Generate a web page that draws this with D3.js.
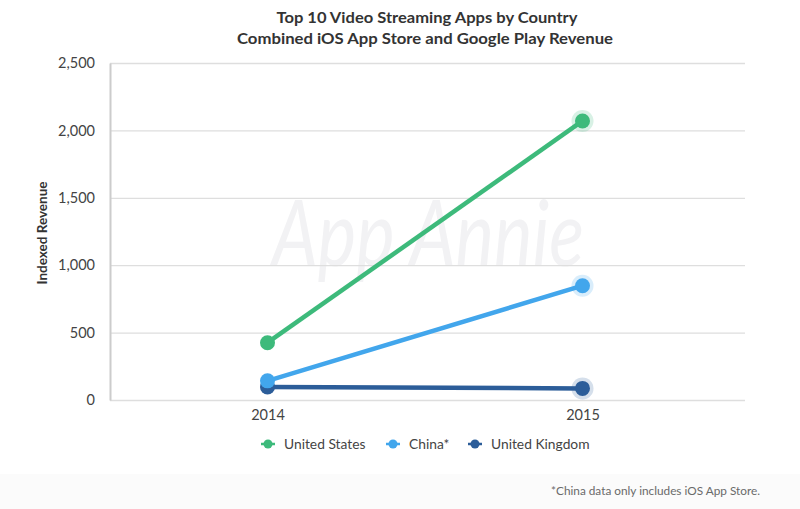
<!DOCTYPE html>
<html>
<head>
<meta charset="utf-8">
<script src="https://cdn.jsdelivr.net/npm/d3@7"></script>
<style>
  body { margin: 0; background: #fff; }
  text { font-family: Lato, "Open Sans", sans-serif; }
</style>
</head>
<body>
<div id="chart"></div>
<script>
// chart data
var years = ["2014", "2015"];
var countries = ["United States", "China*", "United Kingdom"];
var usValues = [425, 2070];
var chinaValues = [142, 848];
var ukValues = [97, 86];
var yTicks = [0, 500, 1000, 1500, 2000, 2500];
var colors = ["#3dba7b", "#42a6ec", "#2c5d99"];

var series = [usValues, chinaValues, ukValues];

var width = 800, height = 509;
var margin = {top: 63, right: 60, bottom: 109, left: 110};

var svg = d3.select("#chart").append("svg")
    .attr("width", width)
    .attr("height", height);

// faint footer band
svg.append("rect")
    .attr("x", 0).attr("y", 474)
    .attr("width", width).attr("height", 35)
    .attr("fill", "#fbfbfb");

var x = d3.scalePoint()
    .domain(years)
    .range([margin.left, width - margin.right])
    .padding(0.5);

var y = d3.scaleLinear()
    .domain([0, 2500])
    .range([height - margin.bottom, margin.top]);

// watermark
svg.append("text")
    .attr("x", 428)
    .attr("y", 266)
    .attr("text-anchor", "middle")
    .attr("font-size", 92)
    .attr("font-style", "italic")
    .attr("font-weight", 400)
    .attr("textLength", 312)
    .attr("lengthAdjust", "spacingAndGlyphs")
    .attr("fill", "#f2f2f4")
    .text("App Annie");

// gridlines
var grid = svg.append("g")
    .attr("transform", "translate(" + margin.left + ",0)")
    .call(d3.axisLeft(y).tickValues(yTicks).tickSize(-(width - margin.right - margin.left + 5)).tickFormat(""));
grid.select(".domain").remove();
grid.selectAll("line").attr("stroke", "#dedede").attr("stroke-width", 1.3);

// y axis
var yAxis = svg.append("g")
    .attr("transform", "translate(" + margin.left + ",0)")
    .call(d3.axisLeft(y).tickValues(yTicks).tickSize(0).tickPadding(15).tickFormat(d3.format(",")));
yAxis.select(".domain").attr("stroke", "#cccccc").attr("stroke-width", 2);
yAxis.selectAll("text")
    .attr("font-size", 14.5)
    .attr("fill", "#444")
    .style("font-family", "Lato, sans-serif");

// x axis labels
var xAxis = svg.append("g")
    .attr("transform", "translate(0," + (height - margin.bottom) + ")")
    .call(d3.axisBottom(x).tickSize(0).tickPadding(10));
xAxis.select(".domain").remove();
xAxis.selectAll("text")
    .attr("font-size", 14.5)
    .attr("fill", "#444")
    .style("font-family", "Lato, sans-serif");

// y title
svg.append("text")
    .attr("transform", "translate(47,233) rotate(-90)")
    .attr("text-anchor", "middle")
    .attr("font-size", 13.5)
    .attr("font-weight", "bold")
    .attr("fill", "#333")
    .text("Indexed Revenue");

// title
var title = svg.append("text")
    .attr("text-anchor", "middle")
    .attr("font-size", 15.5)
    .attr("font-weight", "bold")
    .attr("fill", "#333");
title.append("tspan").attr("x", 427).attr("y", 23)
    .attr("textLength", 301).attr("lengthAdjust", "spacingAndGlyphs")
    .text("Top 10 Video Streaming Apps by Country");
title.append("tspan").attr("x", 425).attr("y", 44)
    .attr("textLength", 376).attr("lengthAdjust", "spacingAndGlyphs")
    .text("Combined iOS App Store and Google Play Revenue");

// lines (draw UK first so it sits underneath)
var line = d3.line()
    .x(function(d, i) { return x(years[i]); })
    .y(function(d) { return y(d); });

var order = [2, 0, 1];
order.forEach(function(k) {
  var vals = series[k];
  var g = svg.append("g");
  g.append("path")
      .datum(vals)
      .attr("d", line)
      .attr("fill", "none")
      .attr("stroke", colors[k])
      .attr("stroke-width", 4.5);
  // halo on last point
  g.append("circle")
      .attr("cx", x(years[1]))
      .attr("cy", y(vals[1]))
      .attr("r", 11)
      .attr("fill", colors[k])
      .attr("opacity", 0.2);
  g.selectAll(".pt")
      .data(vals)
      .join("circle")
      .attr("cx", function(d, i) { return x(years[i]); })
      .attr("cy", function(d) { return y(d); })
      .attr("r", 7.5)
      .attr("fill", colors[k]);
});

// legend
var legendX = [268, 393, 475];
var legend = svg.append("g").attr("transform", "translate(0,444)");
countries.forEach(function(c, i) {
  var lg = legend.append("g").attr("transform", "translate(" + legendX[i] + ",0)");
  lg.append("line")
      .attr("x1", -7).attr("x2", 7)
      .attr("stroke", colors[i]).attr("stroke-width", 2.5);
  lg.append("circle").attr("r", 4.5).attr("fill", colors[i]);
  lg.append("text")
      .attr("x", 16)
      .attr("dy", "0.35em")
      .attr("font-size", 13.8)
      .attr("fill", "#444")
      .text(c);
});

// footnote
svg.append("text")
    .attr("x", 760)
    .attr("y", 495)
    .attr("text-anchor", "end")
    .attr("font-size", 11.8)
    .attr("fill", "#6a6a6a")
    .text("*China data only includes iOS App Store.");
</script>
</body>
</html>
